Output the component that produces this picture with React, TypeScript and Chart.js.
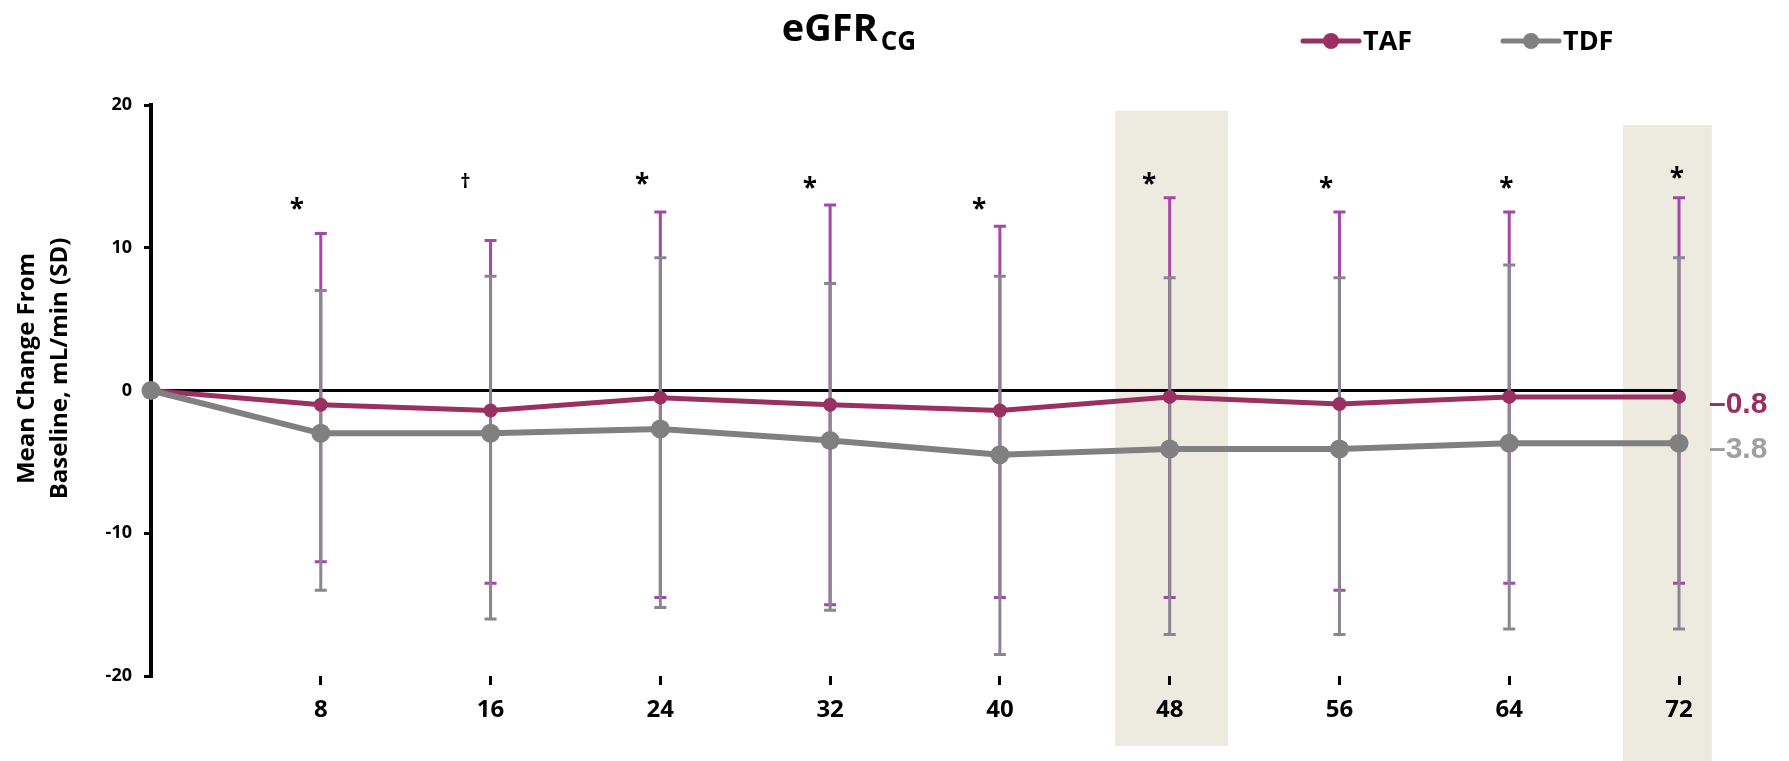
import React, { useEffect, useRef } from 'react';
import { Chart, registerables } from 'chart.js';

Chart.register(...registerables);

// ---------- data ----------
const weeks = [0, 8, 16, 24, 32, 40, 48, 56, 64, 72];
const tafMean = [0, -1.0, -1.4, -0.5, -1.0, -1.4, -0.45, -0.95, -0.45, -0.45];
const tdfMean = [0, -3.0, -3.0, -2.7, -3.5, -4.5, -4.1, -4.1, -3.7, -3.7];
const tafUpper = [null, 11.0, 10.5, 12.5, 13.0, 11.5, 13.5, 12.5, 12.5, 13.5];
const tafLower = [null, -12.0, -13.5, -14.5, -15.0, -14.5, -14.5, -14.0, -13.5, -13.5];
const tdfUpper = [null, 7.0, 8.0, 9.3, 7.5, 8.0, 7.9, 7.9, 8.8, 9.3];
const tdfLower = [null, -14.0, -16.0, -15.2, -15.4, -18.5, -17.1, -17.1, -16.7, -16.7];

const seriesNames = ['TAF', 'TDF'];
const xTicks = [8, 16, 24, 32, 40, 48, 56, 64, 72];
const yTicks = [-20, -10, 0, 10, 20];

const sigMarks = ['*', '†', '*', '*', '*', '*', '*', '*', '*'];
const sigWeeks = [6.87, 14.82, 23.14, 31.05, 39.02, 47.03, 55.37, 63.86, 71.9];
const sigValues = [13.0, 14.6, 14.75, 14.5, 13.0, 14.8, 14.5, 14.5, 15.2];

const endLabels = ['\u20130.8', '\u20133.8'];
const endLabelValues = [-1.0, -4.15];

const bandStart = [45.43, 69.35];
const bandEnd = [50.75, 73.55];
const bandTop = [19.6, 18.6];
const bandBottom = [-24.9, -26.5];

const titleMain = 'eGFR';
const titleSub = 'CG';
const yTitleLines = ['Mean Change From', 'Baseline, mL/min (SD)'];

// ---------- styles ----------
const TAF_COLOR = '#9A3062';
const TDF_COLOR = '#808080';
const TAF_BAR = '#A347A8';
const TDF_BAR = '#8A8590';
const BAND_COLOR = '#EDEAE0';
const END_GRAY = '#A0A0A0';
const FONT = '"Open Sans", Lato, sans-serif';

export default function App() {
  const ref = useRef<HTMLCanvasElement>(null);

  useEffect(() => {
    document.body.style.margin = '0';
    const canvas = ref.current!;

    const drawBars = (chart: any, upper: (number | null)[], lower: (number | null)[], color: string) => {
      const { ctx, scales } = chart;
      const x = scales.x, y = scales.y;
      ctx.save();
      ctx.strokeStyle = color;
      ctx.lineWidth = 3;
      ctx.lineCap = 'butt';
      weeks.forEach((w, i) => {
        const u = upper[i], l = lower[i];
        if (u == null || l == null) return;
        const px = x.getPixelForValue(w);
        const py1 = y.getPixelForValue(u);
        const py2 = y.getPixelForValue(l);
        ctx.beginPath();
        ctx.moveTo(px, py1);
        ctx.lineTo(px, py2);
        ctx.moveTo(px - 6, py1);
        ctx.lineTo(px + 6, py1);
        ctx.moveTo(px - 6, py2);
        ctx.lineTo(px + 6, py2);
        ctx.stroke();
      });
      ctx.restore();
    };

    const plugin = {
      id: 'customDecor',
      beforeDraw(chart: any) {
        const { ctx, scales } = chart;
        const x = scales.x, y = scales.y;
        ctx.save();
        ctx.fillStyle = BAND_COLOR;
        bandStart.forEach((s, i) => {
          const x1 = x.getPixelForValue(s);
          const x2 = x.getPixelForValue(bandEnd[i]);
          const y1 = y.getPixelForValue(bandTop[i]);
          const y2 = y.getPixelForValue(bandBottom[i]);
          ctx.fillRect(x1, y1, x2 - x1, y2 - y1);
        });
        ctx.restore();
      },
      beforeDatasetsDraw(chart: any) {
        drawBars(chart, tafUpper, tafLower, TAF_BAR);
        drawBars(chart, tdfUpper, tdfLower, TDF_BAR);
      },
      afterDraw(chart: any) {
        const { ctx, scales, chartArea } = chart;
        const x = scales.x, y = scales.y;
        ctx.save();

        // Title with subscript
        ctx.fillStyle = '#000';
        ctx.textBaseline = 'alphabetic';
        ctx.textAlign = 'left';
        ctx.font = `bold 38px ${FONT}`;
        const wMain = ctx.measureText(titleMain).width;
        ctx.font = `bold 26px ${FONT}`;
        const wSub = ctx.measureText(titleSub).width;
        const total = wMain + 3 + wSub;
        const tx = 849 - total / 2;
        ctx.font = `bold 38px ${FONT}`;
        ctx.fillText(titleMain, tx, 41);
        ctx.font = `bold 26px ${FONT}`;
        ctx.fillText(titleSub, tx + wMain + 3, 50);

        // Legend
        const legendX = [1303, 1503];
        const colors = [TAF_COLOR, TDF_COLOR];
        seriesNames.forEach((name, i) => {
          const lx = legendX[i];
          const ly = 41;
          ctx.strokeStyle = colors[i];
          ctx.lineWidth = 5;
          ctx.lineCap = 'round';
          ctx.beginPath();
          ctx.moveTo(lx, ly);
          ctx.lineTo(lx + 56, ly);
          ctx.stroke();
          ctx.fillStyle = colors[i];
          ctx.beginPath();
          ctx.arc(lx + 28, ly, 8, 0, Math.PI * 2);
          ctx.fill();
          ctx.fillStyle = '#000';
          ctx.font = `bold 27px ${FONT}`;
          ctx.textBaseline = 'middle';
          ctx.textAlign = 'left';
          ctx.fillText(name, lx + 60, ly + 1);
        });

        // Y axis title
        ctx.fillStyle = '#000';
        ctx.font = `bold 24px ${FONT}`;
        ctx.textAlign = 'center';
        ctx.textBaseline = 'middle';
        const cy = (chartArea.top + chartArea.bottom) / 2 - 22;
        const lineX = [chartArea.left - 124, chartArea.left - 91];
        yTitleLines.forEach((t, i) => {
          ctx.save();
          ctx.translate(lineX[i], cy);
          ctx.rotate(-Math.PI / 2);
          ctx.fillText(t, 0, 0);
          ctx.restore();
        });

        // Significance markers
        ctx.textAlign = 'center';
        ctx.textBaseline = 'middle';
        ctx.fillStyle = '#000';
        sigMarks.forEach((m, i) => {
          ctx.font = m === '*' ? `bold 26px ${FONT}` : `bold 20px ${FONT}`;
          ctx.fillText(m, x.getPixelForValue(sigWeeks[i]), y.getPixelForValue(sigValues[i]) + (m === '*' ? 6 : 0));
        });

        // End labels
        ctx.font = 'bold 30px "Liberation Sans", Arial, sans-serif';
        ctx.textAlign = 'left';
        ctx.textBaseline = 'middle';
        const endColors = [TAF_COLOR, END_GRAY];
        endLabels.forEach((t, i) => {
          ctx.fillStyle = endColors[i];
          ctx.fillText(t, chartArea.right + 30, y.getPixelForValue(endLabelValues[i]));
        });

        ctx.restore();
      },
    };

    const chart = new Chart(canvas, {
      type: 'line',
      data: {
        datasets: [
          {
            label: seriesNames[0],
            data: weeks.map((w, i) => ({ x: w, y: tafMean[i] })),
            borderColor: TAF_COLOR,
            backgroundColor: TAF_COLOR,
            borderWidth: 5,
            pointRadius: 7,
            pointBorderWidth: 0,
            pointBackgroundColor: TAF_COLOR,
            order: 2,
            clip: false as any,
          },
          {
            label: seriesNames[1],
            data: weeks.map((w, i) => ({ x: w, y: tdfMean[i] })),
            borderColor: TDF_COLOR,
            backgroundColor: TDF_COLOR,
            borderWidth: 6,
            pointRadius: 9.5,
            pointBorderWidth: 0,
            pointBackgroundColor: TDF_COLOR,
            order: 1,
            clip: false as any,
          },
        ],
      },
      options: {
        responsive: false,
        animation: false,
        devicePixelRatio: 1,
        layout: { padding: { top: 105, right: 110, bottom: 0, left: 0 } },
        plugins: {
          legend: { display: false },
          title: { display: false },
          tooltip: { enabled: false },
        },
        scales: {
          x: {
            type: 'linear',
            min: 0,
            max: 72,
            afterBuildTicks: (scale: any) => {
              scale.ticks = xTicks.map((v) => ({ value: v }));
            },
            ticks: {
              color: '#000',
              font: { family: FONT, weight: 'bold', size: 24 },
              padding: 11,
              maxRotation: 0,
              autoSkip: false,
              callback: (v: any) => String(v),
            },
            grid: {
              display: true,
              drawOnChartArea: false,
              drawTicks: true,
              tickLength: 9,
              tickWidth: 3,
              tickColor: '#000',
            },
            border: { display: false },
            afterFit: (scale: any) => {
              scale.height = 85;
            },
          },
          y: {
            type: 'linear',
            min: -20,
            max: 20,
            afterBuildTicks: (scale: any) => {
              scale.ticks = yTicks.map((v) => ({ value: v }));
            },
            ticks: {
              color: '#000',
              font: { family: FONT, weight: 'bold', size: 18 },
              padding: 12,
              callback: (v: any) => String(v),
            },
            grid: {
              display: true,
              drawOnChartArea: true,
              drawTicks: true,
              tickLength: 7,
              tickWidth: 3,
              tickColor: '#000',
              color: (c: any) => (c.tick && c.tick.value === 0 ? '#000' : 'rgba(0,0,0,0)'),
              lineWidth: 3,
            },
            border: { display: true, color: '#000', width: 4 },
            afterFit: (scale: any) => {
              scale.width = 151;
            },
          },
        },
      },
      plugins: [plugin],
    });

    return () => chart.destroy();
  }, []);

  return (
    <div style={{ width: 1789, height: 761, background: '#fff' }}>
      <canvas ref={ref} width={1789} height={761} style={{ display: 'block', width: 1789, height: 761 }} />
    </div>
  );
}
